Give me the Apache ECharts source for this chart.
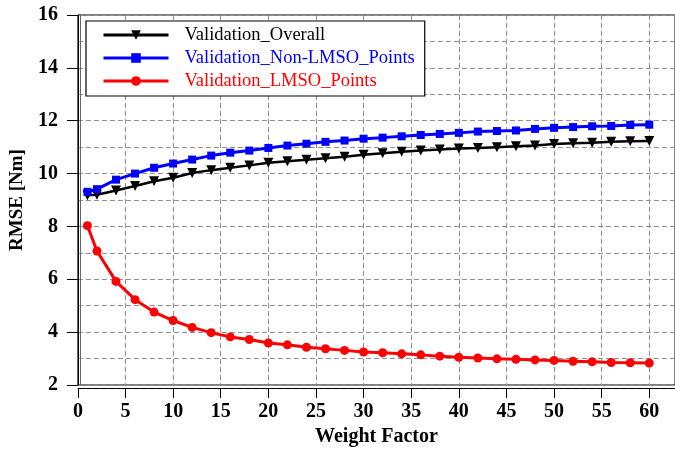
<!DOCTYPE html>
<html>
<head>
<meta charset="utf-8">
<script src="https://cdn.jsdelivr.net/npm/echarts@6/dist/echarts.min.js"></script>
<style>html,body{margin:0;padding:0;background:#fff}#c{width:675px;height:452px}</style>
</head>
<body>
<div id="c"></div>
<script>
var weights = [1,2,4,6,8,10,12,14,16,18,20,22,24,26,28,30,32,34,36,38,40,42,44,46,48,50,52,54,56,58,60];
var overall = [9.18,9.20,9.36,9.53,9.71,9.84,10.02,10.13,10.22,10.31,10.41,10.47,10.52,10.58,10.64,10.71,10.77,10.83,10.87,10.91,10.95,10.97,11.00,11.03,11.06,11.12,11.15,11.17,11.20,11.22,11.23];
var nonLmso = [9.31,9.41,9.77,10.00,10.22,10.38,10.53,10.68,10.79,10.87,10.97,11.06,11.13,11.20,11.25,11.32,11.36,11.41,11.46,11.50,11.54,11.59,11.61,11.63,11.69,11.73,11.76,11.79,11.80,11.84,11.85];
var lmso = [8.03,7.07,5.92,5.23,4.76,4.44,4.18,3.98,3.82,3.72,3.59,3.52,3.43,3.37,3.31,3.25,3.22,3.18,3.14,3.09,3.05,3.02,2.99,2.97,2.95,2.93,2.90,2.88,2.85,2.84,2.83];
var seriesNames = ['Validation_Overall','Validation_Non-LMSO_Points','Validation_LMSO_Points'];
var yTicks = [2,4,6,8,10,12,14,16];
var xTicks = [0,5,10,15,20,25,30,35,40,45,50,55,60];

function pairs(xs, ys){ return xs.map(function(x,i){ return [x, ys[i]]; }); }

var FONT = 'Liberation Serif';
var chart = echarts.init(document.getElementById('c'), null, {renderer:'canvas'});
var gridDash = {color:'#909090', width:1, type:[5,3]};
chart.setOption({
  animation:false,
  backgroundColor:'#fff',
  grid:{left:77, top:15, right:0, bottom:67, show:true, borderColor:'#000', borderWidth:1, containLabel:false},
  legend:{
    orient:'vertical', left:86, top:21,
    backgroundColor:'#fff', borderColor:'#000', borderWidth:1.2, borderRadius:0,
    padding:[4,10,5,16], itemWidth:65, itemHeight:12, itemGap:3,
    lineStyle:{width:3},
    textStyle:{fontFamily:FONT, fontSize:18.5, lineHeight:20, padding:[0,0,0,11]},
    data:[
      {name:seriesNames[0], textStyle:{color:'#000'}},
      {name:seriesNames[1], textStyle:{color:'#0000ff'}},
      {name:seriesNames[2], textStyle:{color:'#ff0000'}}
    ]
  },
  xAxis:[{
    type:'value', min:xTicks[0], max:62.7, interval:5, offset:3,
    name:'Weight Factor', nameLocation:'middle', nameGap:38,
    nameTextStyle:{fontFamily:FONT, fontWeight:'bold', fontSize:20, color:'#000'},
    axisLine:{show:true, lineStyle:{color:'#000', width:1}},
    axisTick:{show:true, length:10, inside:false, lineStyle:{color:'#000'}},
    axisLabel:{fontFamily:FONT, fontWeight:'bold', fontSize:20, color:'#000', margin:14, showMaxLabel:false,
      formatter:function(v){ return xTicks.indexOf(v) >= 0 ? String(v) : ''; }},
    splitLine:{show:true, lineStyle:gridDash}
  }],
  yAxis:[{
    type:'value', min:yTicks[0], max:yTicks[yTicks.length-1], interval:2,
    name:'RMSE [Nm]', nameLocation:'middle', nameGap:48, nameRotate:90,
    nameTextStyle:{fontFamily:FONT, fontWeight:'bold', fontSize:19, color:'#000'},
    axisLine:{show:true, lineStyle:{color:'#000', width:1}},
    axisTick:{show:true, length:11, inside:false, lineStyle:{color:'#000'}},
    axisLabel:{fontFamily:FONT, fontWeight:'bold', fontSize:20, color:'#000', margin:20},
    splitLine:{show:true, lineStyle:gridDash},
    minorTick:{show:false, splitNumber:2},
    minorSplitLine:{show:true, lineStyle:gridDash}
  },{
    type:'value', min:yTicks[0], max:yTicks[yTicks.length-1], position:'left', offset:-2,
    axisLine:{show:true, lineStyle:{color:'#666', width:1}},
    axisTick:{show:false}, axisLabel:{show:false}, splitLine:{show:false}
  }],
  series:[
    {name:seriesNames[0], type:'line', data:pairs(weights, overall), color:'#000',
     symbol:'triangle', symbolRotate:180, symbolSize:10, showAllSymbol:true,
     lineStyle:{width:2.5, color:'#000'}, itemStyle:{color:'#000'}},
    {name:seriesNames[1], type:'line', data:pairs(weights, nonLmso), color:'#0000ff',
     symbol:'rect', symbolSize:8, showAllSymbol:true,
     lineStyle:{width:3, color:'#0000ff'}, itemStyle:{color:'#0000ff'}},
    {name:seriesNames[2], type:'line', data:pairs(weights, lmso), color:'#ff0000',
     symbol:'circle', symbolSize:9, showAllSymbol:true,
     lineStyle:{width:3, color:'#ff0000'}, itemStyle:{color:'#ff0000'}}
  ]
});
</script>
</body>
</html>
